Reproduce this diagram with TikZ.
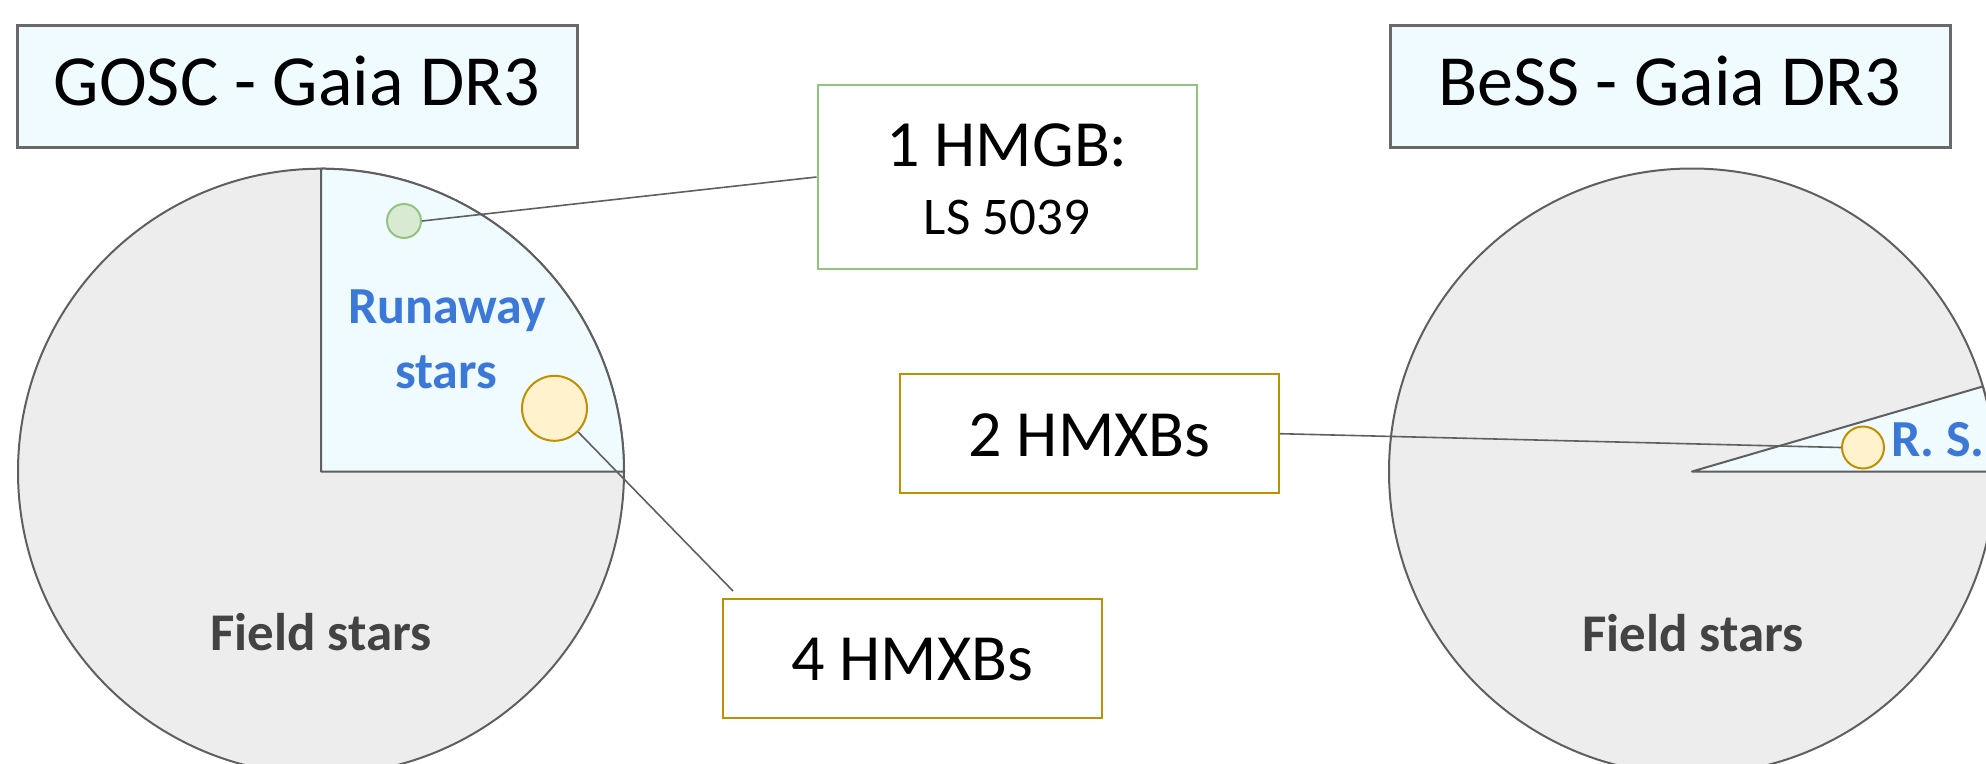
\documentclass[tikz,border=0pt]{standalone}
\usepackage{fontspec}
\setmainfont{Carlito}

\definecolor{panel}{RGB}{240,251,255}
\definecolor{fieldgray}{RGB}{237,237,237}
\definecolor{pieline}{RGB}{95,95,95}
\definecolor{titleborder}{RGB}{105,105,105}
\definecolor{runblue}{RGB}{60,120,216}
\definecolor{fieldtext}{RGB}{67,67,67}
\definecolor{gold}{RGB}{191,144,0}
\definecolor{goldfill}{RGB}{255,242,204}
\definecolor{greenedge}{RGB}{147,196,125}
\definecolor{greenfill}{RGB}{217,234,211}

\tikzset{
  titlebox/.style={draw=titleborder, line width=3pt, fill=panel,
    minimum width=560pt, minimum height=122pt, inner sep=0pt,
    font=\fontsize{72}{86}\selectfont, text height=45pt, text depth=7pt},
  countbox/.style={draw, line width=2pt, fill=white,
    minimum width=379pt, inner sep=0pt},
  hmxbbox/.style={countbox, draw=gold, minimum height=119pt,
    font=\fontsize{66}{79}\selectfont, text height=45pt, text depth=0pt},
  hmgbbox/.style={countbox, draw=greenedge, minimum height=184pt},
  piedisc/.style={fill=fieldgray, draw=pieline, line width=2pt},
  slice/.style={fill=panel, draw=pieline, line width=2pt, line join=round},
  dot/.style={circle, inner sep=0pt, line width=2pt},
  hmxbdot/.style={dot, fill=goldfill, draw=gold},
  hmgbdot/.style={dot, fill=greenfill, draw=greenedge},
  sliceword/.style={anchor=base, inner sep=0pt, text=runblue,
    font=\fontsize{52}{65}\selectfont\bfseries},
  fieldword/.style={anchor=base, inner sep=0pt, text=fieldtext,
    font=\fontsize{53}{64}\selectfont\bfseries},
  link/.style={draw=pieline, line width=1.6pt},
}

\begin{document}
\begin{tikzpicture}[x=1pt, y=-1pt]
\useasboundingbox (0,0) rectangle (1986,763);
\clip (0,0) rectangle (1986,763);

% ---- GOSC pie: field stars with a runaway quadrant ----
\coordinate (gc) at (321,471.7);
\draw[piedisc] (gc) circle[radius=303pt];
\draw[slice] (gc) -- ++(303pt,0pt) arc[start angle=0, end angle=90, radius=303pt] -- cycle;

% ---- BeSS pie: field stars with a thin runaway slice ----
\coordinate (bc) at (1692,471.5);
\draw[piedisc] (bc) circle[radius=303pt];
\draw[slice] (bc) -- ++(303pt,0pt) arc[start angle=0, end angle=16.3, radius=303pt] -- cycle;

% ---- titles ----
\node[titlebox] (gosc) at (297,86) {GOSC - Gaia DR3};
\node[titlebox] (bess) at (1670,86) {BeSS - Gaia DR3};

% ---- slice labels ----
\node[sliceword] (rw1) at (447,323.3) {Runaway};
\node[sliceword] (rw2) at (446,388.3) {stars};
\node[sliceword, anchor=base west] (rs) at (1891,456) {R. S.};
\node[fieldword] (fs1) at (321,650) {Field stars};
\node[fieldword] (fs2) at (1693,651) {Field stars};

% ---- binaries inside the runaway slices ----
\node[hmgbdot, minimum size=34pt] (g1) at (404,221) {};
\node[hmxbdot, minimum size=65pt] (y1) at (554.5,408.3) {};
\node[hmxbdot, minimum size=42pt] (y2) at (1863,447.5) {};

% ---- count boxes ----
\node[hmgbbox] (hmgb) at (1007,177) {};
\node[anchor=base, inner sep=0pt, font=\fontsize{66}{79}\selectfont] (hmgbl1) at (1007,166.7) {1 HMGB:};
\node[anchor=base, inner sep=0pt, font=\fontsize{53}{64}\selectfont] (hmgbl2) at (1007,234) {LS 5039};
\node[hmxbbox] (four) at (912.2,658.4) {4 HMXBs};
\node[hmxbbox] (two) at (1089.5,433.7) {2 HMXBs};

% ---- connectors ----
\coordinate (fourtip) at (733,591);
\draw[link] (g1.east) -- (hmgb.west);
\draw[link] (y1.south east) -- (fourtip);
\draw[link] (two.east) -- (y2.west);
\end{tikzpicture}
\end{document}
